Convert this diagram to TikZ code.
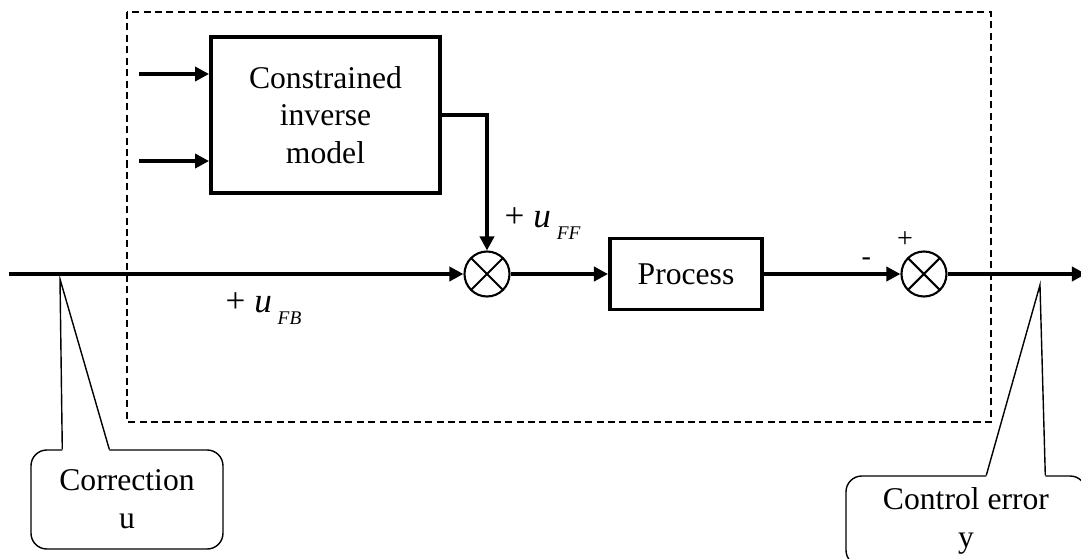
\documentclass[tikz,border=0pt]{standalone}
\usepackage{fontspec}
\setmainfont{Liberation Serif}
\usetikzlibrary{arrows.meta, positioning, calc}
\newcommand\mainsize{\fontsize{18}{21.5}\selectfont}
\newcommand\usig[1]{\textit{u}\,\raisebox{-0.35em}{\fontsize{11}{12}\selectfont\textit{#1}}}
\tikzset{
  block/.style ={draw, line width=2.2pt, align=center, font=\mainsize},
  sum/.style   ={draw, circle, line width=1.2pt, minimum size=0.9cm, inner sep=0pt,
                 path picture={\draw[line width=1.2pt]
                   (path picture bounding box.north west) -- (path picture bounding box.south east)
                   (path picture bounding box.north east) -- (path picture bounding box.south west);}},
  sig/.style   ={-{Triangle[length=8pt, width=8pt]}, line width=2.2pt},
  frame/.style ={dashed, dash pattern=on 4pt off 2.5pt, line width=0.8pt},
  note/.style  ={draw, rounded corners=9pt, line width=0.8pt, align=center, font=\mainsize},
  pointer/.style={line width=0.8pt, line join=miter},
  sign/.style  ={font=\fontsize{16}{17}\selectfont, inner sep=1pt},
  lbl/.style   ={font=\fontsize{20}{24}\selectfont, inner sep=1pt},
}

\begin{document}
\begin{tikzpicture}
  \useasboundingbox (-9.74,-5.68) rectangle (11.88,5.48);
  \clip (-9.74,-5.68) rectangle (11.88,5.48);

  % main loop
  \node[sum]                                               (s1)   at (0,0) {};
  \node[block, minimum width=3.04cm, minimum height=1.42cm,
        right=1.95cm of s1]                                (proc) {Process};
  \node[sum, right=2.73cm of proc]                         (s2)   {};
  \node[block, minimum width=4.58cm, minimum height=3.12cm] (inv) at (-3.23,3.18)
        {Constrained\\inverse\\model};

  \coordinate (start) at ($(s1)+(-9.56,0)$);
  \coordinate (end)   at ($(s2)+(3.24,0)$);
  \coordinate (in1)   at ($(inv.west)+(-1.4,0.82)$);
  \coordinate (in2)   at ($(inv.west)+(-1.4,-0.92)$);

  \draw[sig] (in1) -- (inv.west |- in1);
  \draw[sig] (in2) -- (inv.west |- in2);
  \draw[sig] (inv.east) -| node[lbl, pos=0.9, anchor=west, xshift=8pt]{+ \usig{FF}} (s1.north);
  \draw[sig] (start) -- node[lbl, pos=0.56, below=0.3cm]{+ \usig{FB}} (s1);
  \draw[sig] (s1)   -- (proc);
  \draw[sig] (proc) -- node[sign, pos=0.75, above=3pt]{-} (s2);
  \draw[sig] (s2)   -- (end);
  \node[sign] (plus) at ($(s2.north)+(-0.38,0.22)$) {+};

  % dashed frame round the controller
  \draw[frame] (-7.2,5.24) rectangle (10.08,-2.96);

  % callouts
  \node[note, minimum width=3.84cm, minimum height=1.98cm] (corr) at (-7.2,-4.51) {Correction\\u};
  \node[note, minimum width=4.8cm, minimum height=1.8cm]   (cerr) at (9.58,-4.94) {Control error\\y};

  \coordinate (ctip) at ($(start)+(1.02,-0.1)$);
  \coordinate (cb1)  at ($(corr.north west)+(0.64,0)$);
  \coordinate (cb2)  at ($(corr.north west)+(1.58,0)$);
  \fill[white] ($(cb1)+(0,-0.03)$) -- (ctip) -- ($(cb2)+(0,-0.03)$) -- cycle;
  \draw[pointer] (cb1) -- (ctip) -- (cb2);

  \coordinate (etip) at ($(s2)+(2.32,-0.22)$);
  \coordinate (eb1)  at ($(cerr.north west)+(2.82,0)$);
  \coordinate (eb2)  at ($(cerr.north west)+(4.0,0)$);
  \fill[white] ($(eb1)+(0,-0.03)$) -- (etip) -- ($(eb2)+(0,-0.03)$) -- cycle;
  \draw[pointer] (eb1) -- (etip) -- (eb2);
\end{tikzpicture}
\end{document}
